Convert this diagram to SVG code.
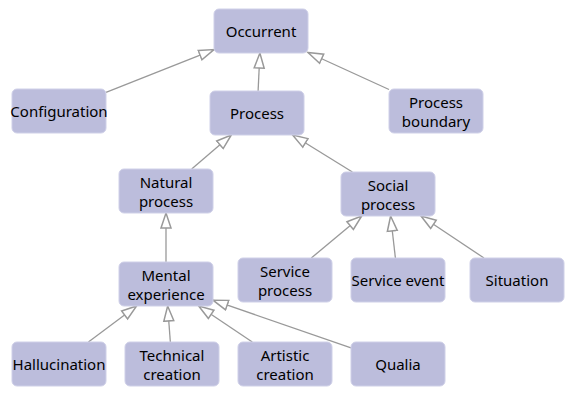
<svg xmlns="http://www.w3.org/2000/svg" width="576" height="400" viewBox="0 0 576 400">
<defs>
<marker id="tri" markerUnits="userSpaceOnUse" markerWidth="20" markerHeight="14" refX="16" refY="6" orient="auto" viewBox="0 0 20 12">
<path d="M1,1 L16,6 L1,11 Z" fill="#ffffff" stroke="#999999" stroke-width="1.5" stroke-linejoin="miter"/>
</marker>
<style>
.n rect{fill:#bcbddc;stroke:#cfd0e8;stroke-width:1}
.n text{font-family:"Noto Sans","Open Sans","DejaVu Sans",sans-serif;font-size:15px;fill:#000000;text-anchor:middle}
.e line{stroke:#999999;stroke-width:1.3;marker-end:url(#tri)}
</style>
</defs>
<rect width="576" height="400" fill="#ffffff"/>
<g id="edges" class="e">
<line x1="106" y1="92.4" x2="214" y2="49.6"/>
<line x1="258.1" y1="91" x2="259.9" y2="53"/>
<line x1="389" y1="89.5" x2="308" y2="52.5"/>
<line x1="191.7" y1="169" x2="231.3" y2="135"/>
<line x1="352.4" y1="172" x2="292.6" y2="135"/>
<line x1="166" y1="262" x2="166" y2="213"/>
<line x1="311.3" y1="258" x2="361.7" y2="216"/>
<line x1="395.4" y1="258" x2="390.6" y2="216"/>
<line x1="484" y1="258" x2="421" y2="216"/>
<line x1="88.4" y1="342" x2="136.6" y2="306"/>
<line x1="170.35" y1="342" x2="167.65" y2="306"/>
<line x1="252.3" y1="342" x2="198.7" y2="306"/>
<line x1="351" y1="347.8" x2="213" y2="300.2"/>
</g>
<g id="occurrent" class="n"><rect x="214" y="9" width="94" height="44" rx="5"/><text x="261" y="37">Occurrent</text></g>
<g id="configuration" class="n"><rect x="12" y="89" width="94" height="44" rx="5"/><text x="59" y="117">Configuration</text></g>
<g id="process" class="n"><rect x="210" y="91" width="94" height="44" rx="5"/><text x="257" y="119">Process</text></g>
<g id="process-boundary" class="n"><rect x="389" y="89" width="94" height="44" rx="5"/><text x="436" y="108">Process</text><text x="436" y="127">boundary</text></g>
<g id="natural-process" class="n"><rect x="119" y="169" width="94" height="44" rx="5"/><text x="166" y="188">Natural</text><text x="166" y="207">process</text></g>
<g id="social-process" class="n"><rect x="341" y="172" width="94" height="44" rx="5"/><text x="388" y="191">Social</text><text x="388" y="210">process</text></g>
<g id="mental-experience" class="n"><rect x="119" y="262" width="94" height="44" rx="5"/><text x="166" y="281">Mental</text><text x="166" y="300">experience</text></g>
<g id="service-process" class="n"><rect x="238" y="258" width="94" height="44" rx="5"/><text x="285" y="277">Service</text><text x="285" y="296">process</text></g>
<g id="service-event" class="n"><rect x="351" y="258" width="94" height="44" rx="5"/><text x="398" y="286">Service event</text></g>
<g id="situation" class="n"><rect x="470" y="258" width="94" height="44" rx="5"/><text x="517" y="286">Situation</text></g>
<g id="hallucination" class="n"><rect x="12" y="342" width="94" height="44" rx="5"/><text x="59" y="370">Hallucination</text></g>
<g id="technical-creation" class="n"><rect x="125" y="342" width="94" height="44" rx="5"/><text x="172" y="361">Technical</text><text x="172" y="380">creation</text></g>
<g id="artistic-creation" class="n"><rect x="238" y="342" width="94" height="44" rx="5"/><text x="285" y="361">Artistic</text><text x="285" y="380">creation</text></g>
<g id="qualia" class="n"><rect x="351" y="342" width="94" height="44" rx="5"/><text x="398" y="370">Qualia</text></g>
</svg>
